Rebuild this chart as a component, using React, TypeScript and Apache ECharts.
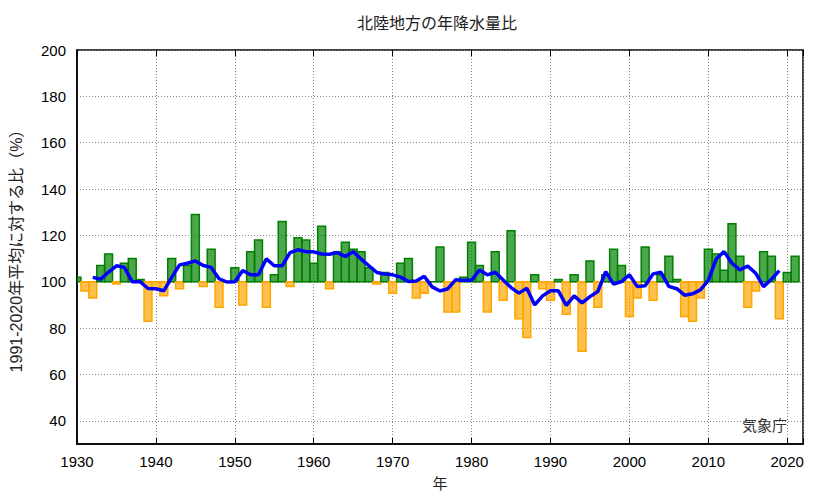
import * as echarts from 'echarts'
import { useEffect, useRef } from 'react'

// 年 (1930-2021)
const years = [
  1930, 1931, 1932, 1933, 1934, 1935, 1936, 1937, 1938, 1939,
  1940, 1941, 1942, 1943, 1944, 1945, 1946, 1947, 1948, 1949,
  1950, 1951, 1952, 1953, 1954, 1955, 1956, 1957, 1958, 1959,
  1960, 1961, 1962, 1963, 1964, 1965, 1966, 1967, 1968, 1969,
  1970, 1971, 1972, 1973, 1974, 1975, 1976, 1977, 1978, 1979,
  1980, 1981, 1982, 1983, 1984, 1985, 1986, 1987, 1988, 1989,
  1990, 1991, 1992, 1993, 1994, 1995, 1996, 1997, 1998, 1999,
  2000, 2001, 2002, 2003, 2004, 2005, 2006, 2007, 2008, 2009,
  2010, 2011, 2012, 2013, 2014, 2015, 2016, 2017, 2018, 2019,
  2020, 2021
]

// 年降水量比 (%)
const ratios = [
  102, 96, 93, 107, 112, 99, 108, 110, 101, 83,
  97, 94, 110, 97, 107, 129, 98, 114, 89, 100,
  106, 90, 113, 118, 89, 103, 126, 98, 119, 118,
  108, 124, 97, 113, 117, 114, 113, 106, 99, 104,
  95, 108, 110, 93, 95, 100, 115, 87, 87, 102,
  117, 107, 87, 113, 92, 122, 84, 76, 103, 97,
  92, 101, 86, 103, 70, 109, 89, 103, 114, 107,
  85, 93, 115, 92, 103, 111, 101, 85, 83, 93,
  114, 112, 105, 125, 111, 89, 96, 113, 111, 84,
  104, 111
]

// 5年移動平均 (1932-2019)
const trendYears = [
  1932, 1933, 1934, 1935, 1936, 1937, 1938, 1939,
  1940, 1941, 1942, 1943, 1944, 1945, 1946, 1947, 1948, 1949,
  1950, 1951, 1952, 1953, 1954, 1955, 1956, 1957, 1958, 1959,
  1960, 1961, 1962, 1963, 1964, 1965, 1966, 1967, 1968, 1969,
  1970, 1971, 1972, 1973, 1974, 1975, 1976, 1977, 1978, 1979,
  1980, 1981, 1982, 1983, 1984, 1985, 1986, 1987, 1988, 1989,
  1990, 1991, 1992, 1993, 1994, 1995, 1996, 1997, 1998, 1999,
  2000, 2001, 2002, 2003, 2004, 2005, 2006, 2007, 2008, 2009,
  2010, 2011, 2012, 2013, 2014, 2015, 2016, 2017, 2018, 2019
]
const trendValues = [
  101.9, 101.1, 104.2, 106.9, 106.2, 100.0, 100.0, 97.1,
  97.0, 96.1, 101.9, 107.3, 108.0, 109.0, 107.0, 106.2, 101.3, 99.9,
  100.0, 104.9, 103.0, 103.0, 109.9, 106.9, 106.9, 112.6, 113.8, 113.0,
  112.9, 112.0, 111.9, 112.6, 110.9, 113.0, 109.8, 106.9, 104.0, 103.3,
  103.0, 102.0, 100.1, 100.3, 102.4, 97.8, 96.0, 97.0, 100.9, 100.6,
  100.6, 105.1, 103.0, 104.1, 100.8, 97.5, 95.1, 97.2, 90.0, 93.9,
  96.1, 96.1, 89.8, 93.9, 90.9, 93.6, 95.8, 104.4, 99.0, 100.1,
  103.0, 97.9, 98.3, 103.4, 104.1, 98.0, 97.0, 94.2, 94.8, 96.5,
  100.6, 109.8, 113.0, 108.0, 105.1, 106.8, 103.7, 97.9, 101.1, 104.8
]

const BASE = 100
const FONT = "'Liberation Sans', 'Noto Sans CJK JP', sans-serif"

export default function App() {
  const chartRef = useRef<HTMLDivElement>(null)

  useEffect(() => {
    if (!chartRef.current) return
    const chart = echarts.init(chartRef.current, null, { renderer: 'svg' })

    const barData = years.map((y, i) => [y, ratios[i]])
    const lineData = trendYears.map((y, i) => [y, trendValues[i]])

    const option = {
      animation: false,
      textStyle: { fontFamily: FONT },
      grid: {
        left: 72,
        right: 30,
        top: 50,
        bottom: 54,
        show: true,
        borderColor: '#000',
        borderWidth: 1.5,
        backgroundColor: 'transparent'
      },
      graphic: [
        {
          type: 'text',
          x: 437,
          y: 23,
          style: {
            text: '北陸地方の年降水量比',
            fontSize: 16,
            fontFamily: FONT,
            fill: '#222',
            align: 'center',
            verticalAlign: 'middle'
          }
        },
        {
          type: 'text',
          x: 787,
          y: 425,
          z: 10,
          style: {
            text: '気象庁',
            fontSize: 15,
            fontFamily: FONT,
            fill: '#333',
            align: 'right',
            verticalAlign: 'middle'
          }
        }
      ],
      xAxis: [
        {
          type: 'value',
          position: 'bottom',
          min: 1930,
          max: 2022,
          interval: 10,
          name: '年',
          nameLocation: 'middle',
          nameGap: 32,
          nameTextStyle: { fontSize: 15, color: '#222', fontFamily: FONT },
          axisLine: { show: true, lineStyle: { color: '#000', width: 1.5 } },
          axisTick: { inside: true, length: 6, lineStyle: { color: '#000' } },
          axisLabel: {
            margin: 10,
            fontSize: 15,
            color: '#000',
            fontFamily: FONT,
            formatter: (v: number) => (v % 10 === 0 ? String(v) : '')
          },
          splitLine: { show: true, lineStyle: { color: '#888', width: 1, type: [1, 2] } }
        },
        {
          type: 'value',
          position: 'top',
          min: 1930,
          max: 2022,
          interval: 10,
          axisLine: { show: false },
          axisTick: { inside: true, length: 6, lineStyle: { color: '#000' } },
          axisLabel: { show: false },
          splitLine: { show: false }
        }
      ],
      yAxis: {
        type: 'value',
        min: 30,
        max: 200,
        interval: 10,
        name: '1991-2020年平均に対する比（%）',
        nameLocation: 'middle',
        nameGap: 53,
        nameRotate: 90,
        nameTextStyle: { fontSize: 16, color: '#222', fontFamily: FONT },
        axisLine: { show: true, lineStyle: { color: '#000', width: 1.5 } },
        axisTick: { show: false },
        axisLabel: {
          margin: 11,
          fontSize: 15,
          color: '#000',
          fontFamily: FONT,
          formatter: (v: number) => (v % 20 === 0 ? String(v) : '')
        },
        splitLine: {
          show: true,
          lineStyle: { color: ['rgba(0,0,0,0)', '#888'], width: 1, type: [1, 2] }
        }
      },
      series: [
        {
          type: 'custom',
          clip: true,
          encode: { x: 0, y: 1 },
          data: barData,
          z: 2,
          renderItem: (_params: any, api: any) => {
            const yr = api.value(0)
            const v = api.value(1)
            const p0 = api.coord([yr - 0.5, Math.max(v, BASE)])
            const p1 = api.coord([yr + 0.5, Math.min(v, BASE)])
            const up = v >= BASE
            return {
              type: 'rect',
              shape: {
                x: p0[0],
                y: p0[1],
                width: p1[0] - p0[0],
                height: p1[1] - p0[1]
              },
              style: {
                fill: up ? 'rgba(0,128,0,0.7)' : 'rgba(255,165,0,0.7)',
                stroke: up ? '#008000' : '#ffa500',
                lineWidth: 1.5
              }
            }
          }
        },
        {
          type: 'line',
          data: lineData,
          symbol: 'none',
          z: 5,
          lineStyle: { color: '#0000ff', width: 3.5 }
        }
      ]
    }

    chart.setOption(option)
    return () => chart.dispose()
  }, [])

  return (
    <div
      ref={chartRef}
      style={{ position: 'absolute', left: 0, top: 0, width: '833px', height: '498px' }}
    />
  )
}
